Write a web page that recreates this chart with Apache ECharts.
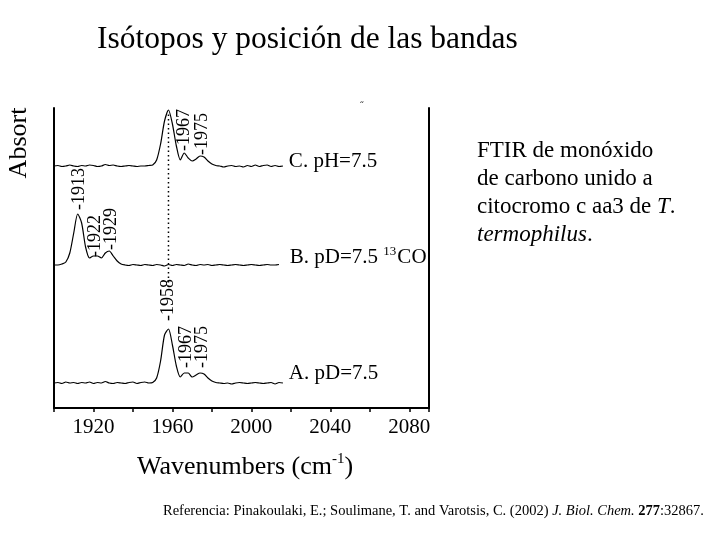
<!DOCTYPE html>
<html>
<head>
<meta charset="utf-8">
<title>Isótopos y posición de las bandas</title>
<script src="https://cdn.jsdelivr.net/npm/echarts@6/dist/echarts.min.js"></script>
<style>
html,body{margin:0;padding:0;background:#fff;}
#chart{width:720px;height:540px;}
</style>
</head>
<body>
<div id="chart"></div>
<script>
// numero de onda (cm-1), paso 2
var wn = [1900,1902,1904,1906,1908,1910,1912,1914,1916,1918,1920,1922,1924,1926,1928,1930,1932,1934,1936,1938,
          1940,1942,1944,1946,1948,1950,1952,1954,1956,1958,1960,1962,1964,1966,1968,1970,1972,1974,1976,1978,
          1980,1982,1984,1986,1988,1990,1992,1994,1996,1998,2000,2002,2004,2006,2008,2010,2012,2014,2016];

// espectros (altura sobre la linea base)
var specC = [0,0.5,-0.5,0,1,0,-0.5,0.5,0,1,0.5,-0.5,0,1.5,0.5,1,0,-0.5,0,0.5,
             0,-0.5,0,0,0.5,1,6,22,45,56,42,20,6,13,8,5,7,10,9,5,
             2,0.5,0,-1,0,0.5,-0.5,0,-1,0.5,-0.5,1,-0.5,0.5,1,-0.5,0.5,-0.5,0];
var specB = [0,0,1,3,12,32,51,42,18,7,9,9,7,12,14,9,4,1,0,-0.5,
             0.5,0,-0.5,0.5,0,-0.5,0.5,0,-1,0.5,-0.5,0.5,0,-0.5,1,0,-0.5,0.5,0,0.5,
             -0.5,0,0.5,0,-0.5,0,0.5,0,-0.5,0,0.5,0,-0.5,0,0.5,0,0,0.5,null];
var specA = [0,0.5,-0.5,1,0,0.5,-0.5,0.5,0,1,-0.5,0.5,0,1.5,0,-0.5,0.5,0,-0.5,0.5,
             1,-0.5,0.5,1,0,0.5,5,22,48,54,38,17,6,10,10,6,8,10,9,5,
             2,0.5,0,-0.5,0,-1,0,0.5,0,-0.5,0,0.5,0,-0.5,0,0.5,-1,0.5,0];
var baseC = 242, baseB = 143, baseA = 25;

// etiquetas de picos: texto, numero de onda, altura
var peakText = ['-1967','-1975','-1913','-1922','-1929','-1958','-1967','-1975'];
var peakWn   = [1966, 1975, 1913, 1921, 1929, 1958, 1967, 1975];
var peakY    = [257, 253, 198, 151, 158, 87, 40, 40];

// etiquetas de las curvas
var traceText = ['C. pH=7.5', 'B. pD=7.5 {sup|13}CO', 'A. pD=7.5'];
var traceWn   = [2019, 2019.5, 2019];
var traceY    = [247, 151, 35];

// linea punteada a 1958
var dotWn = [1958, 1958];
var dotY  = [121, 296];

var serif = '"Liberation Serif","Times New Roman",serif';

function build(spec, base){
    var out = [];
    for (var i = 0; i < wn.length; i++) {
        if (spec[i] === null) continue;
        out.push([wn[i], spec[i] + base]);
    }
    return out;
}

var myChart = echarts.init(document.getElementById('chart'));
var lineStyle = {color:'#000', width:1.2};
var option = {
    animation:false,
    backgroundColor:'#fff',
    grid:{left:54, right:291, top:108, bottom:132},
    xAxis:{
        type:'value', min:1900, max:2090, interval:20,
        axisLine:{lineStyle:{color:'#000', width:2}},
        axisTick:{show:true, inside:false, length:4, lineStyle:{color:'#000', width:1.5}},
        axisLabel:{
            margin:9, color:'#000', fontFamily:serif, fontSize:21,
            formatter:function(v){ return (v % 40 === 0) ? String(v) : ''; }
        },
        splitLine:{show:false}
    },
    yAxis:[
        {type:'value', min:0, max:300, position:'left',
         axisLine:{show:true, lineStyle:{color:'#000', width:2}},
         axisTick:{show:false}, axisLabel:{show:false}, splitLine:{show:false}},
        {type:'value', min:0, max:300, position:'right',
         axisLine:{show:true, lineStyle:{color:'#000', width:2}},
         axisTick:{show:false}, axisLabel:{show:false}, splitLine:{show:false}}
    ],
    series:[
        {name:'C', type:'line', data:build(specC, baseC), showSymbol:false, smooth:0.25, lineStyle:lineStyle},
        {name:'B', type:'line', data:build(specB, baseB), showSymbol:false, smooth:0.25, lineStyle:lineStyle},
        {name:'A', type:'line', data:build(specA, baseA), showSymbol:false, smooth:0.25, lineStyle:lineStyle},
        {name:'1958', type:'line', data:[[dotWn[0], dotY[0]], [dotWn[1], dotY[1]]], showSymbol:false,
         lineStyle:{color:'#000', width:1.5, type:[1.5,3]}}
    ]
};
myChart.setOption(option);

// textos
var g = [];
g.push({type:'text', x:97, y:40, style:{text:'Isótopos y posición de las bandas', font:'31.5px ' + serif,
        fill:'#000', align:'left', verticalAlign:'middle'}});
g.push({type:'text', x:19, y:143, rotation:Math.PI/2, style:{text:'Absort', font:'26px ' + serif,
        fill:'#000', align:'center', verticalAlign:'middle'}});
g.push({type:'text', x:362, y:106, style:{text:'˝', font:'10px ' + serif, fill:'#000',
        align:'center', verticalAlign:'middle'}});
for (var i = 0; i < peakText.length; i++) {
    var p = myChart.convertToPixel({gridIndex:0}, [peakWn[i], peakY[i]]);
    g.push({type:'text', x:p[0], y:p[1], rotation:Math.PI/2,
            style:{text:peakText[i], font:'18px ' + serif, fill:'#000', align:'left', verticalAlign:'middle'}});
}
for (var j = 0; j < traceText.length; j++) {
    var q = myChart.convertToPixel({gridIndex:0}, [traceWn[j], traceY[j]]);
    g.push({type:'text', x:q[0], y:q[1],
            style:{text:traceText[j], font:'21px ' + serif, fill:'#000', align:'left', verticalAlign:'middle',
                   rich:{sup:{fontSize:13, fontFamily:serif, verticalAlign:'top', lineHeight:24, padding:[0,1,0,0]}}}});
}
g.push({type:'text', x:245, y:467, style:{
    text:'Wavenumbers (cm{sup|-1})', font:'26px ' + serif, fill:'#000', align:'center', verticalAlign:'middle',
    rich:{sup:{fontSize:15, fontFamily:serif, verticalAlign:'top', lineHeight:30}}}});
g.push({type:'text', x:477, y:137, style:{
    text:'FTIR de monóxido\nde carbono unido a\ncitocromo c aa3 de {i|T}.\n{i|termophilus}.',
    font:'23px ' + serif, fill:'#000', align:'left', verticalAlign:'top', lineHeight:28,
    rich:{i:{fontStyle:'italic', fontSize:23, fontFamily:serif, lineHeight:28}}}});
g.push({type:'text', x:163, y:511, style:{
    text:'Referencia: Pinakoulaki, E.; Soulimane, T. and Varotsis, C. (2002) {i|J. Biol. Chem.} {b|277}:32867.',
    font:'14.5px ' + serif, fill:'#000', align:'left', verticalAlign:'middle',
    rich:{i:{fontStyle:'italic', fontSize:14.5, fontFamily:serif}, b:{fontWeight:'bold', fontSize:14.5, fontFamily:serif}}}});
myChart.setOption({graphic:g});
</script>
</body>
</html>
